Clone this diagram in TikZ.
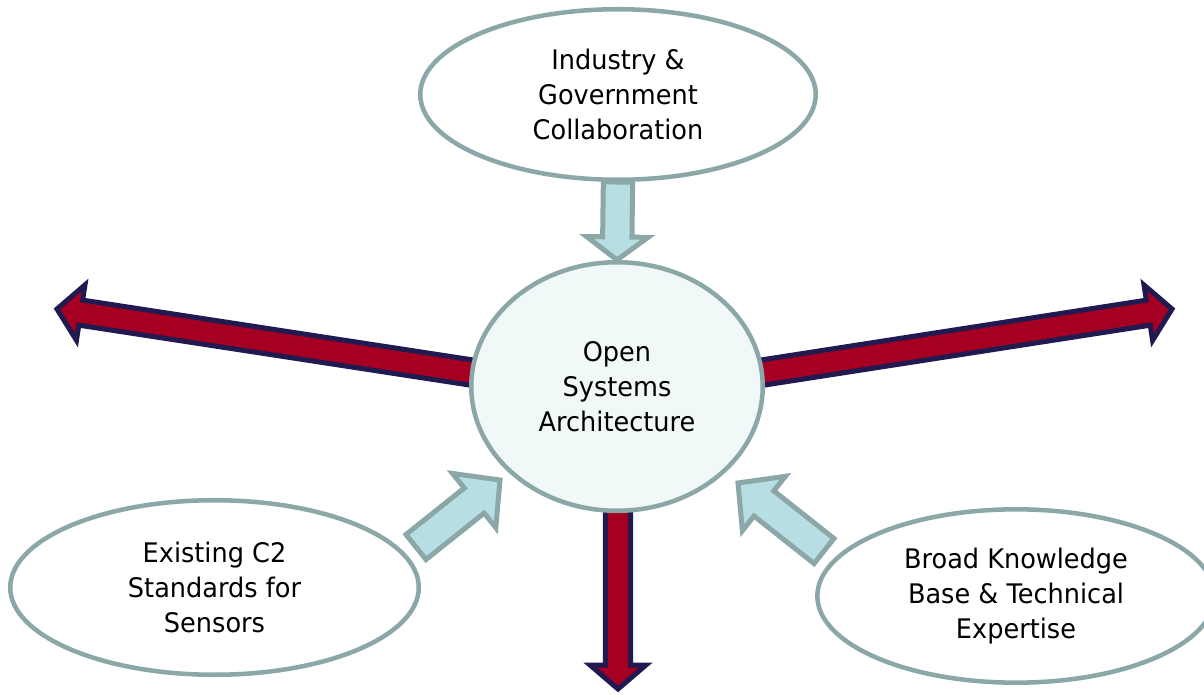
\documentclass[tikz,border=0pt]{standalone}
\usepackage{fontspec}
\setmainfont{DejaVu Sans}[FakeStretch=0.95]
\usepackage{tikz}
\usetikzlibrary{shapes}
\usetikzlibrary{calc}
\usetikzlibrary{backgrounds}
\usepackage{xcolor}

\definecolor{osaLine}{RGB}{140,167,168}
\definecolor{osaFill}{RGB}{240,248,248}
\definecolor{inFill}{RGB}{183,222,226}
\definecolor{outFill}{RGB}{165,0,33}
\definecolor{outLine}{RGB}{32,26,80}

\tikzset{
  bubble/.style={ellipse, draw=osaLine, line width=3.4pt, fill=white, inner sep=0pt, align=center, font=\fontsize{20.2}{26.25}\selectfont},
  fat arrow/.style args={#1/#2/#3}{to path={
      (\tikztostart) coordinate (fa-s) (\tikztotarget) coordinate (fa-t)
      ($(fa-t)!#3!(fa-s)$) coordinate (fa-h)
      ($(fa-s)!#1!90:(fa-t)$) -- ($(fa-h)!#1!90:(fa-t)$) -- ($(fa-h)!#2!90:(fa-t)$) -- (fa-t)
      -- ($(fa-h)!#2!-90:(fa-t)$) -- ($(fa-h)!#1!-90:(fa-t)$) -- ($(fa-s)!#1!-90:(fa-t)$) -- cycle}},
  outarrow/.style={draw=outLine, fill=outFill, line width=3.75pt, line join=miter, fat arrow=9.5pt/21pt/18pt},
  inarrow/.style={draw=osaLine, fill=inFill, line width=3.75pt, line join=miter},
}

\begin{document}
\begin{tikzpicture}[x=0.75pt,y=0.75pt,yscale=-1,xscale=1]
\useasboundingbox (0,0) rectangle (1204,695);

%Ellipses
\node [bubble, fill=osaFill, minimum width=218.6pt, minimum height=186.4pt] (osa) at (617,386.5) {Open\\Systems\\Architecture};
\node [bubble, minimum width=296.6pt, minimum height=127.9pt] (igc) at (618,94.5) {Industry \&\\Government\\Collaboration};
\node [bubble, minimum width=306.4pt, minimum height=130.9pt] (c2s) at (214.5,587.5) {Existing C2\\Standards for\\Sensors};
\node [bubble, minimum width=298pt, minimum height=130pt] (bkb) at (1016,596) {Broad Knowledge\\Base \& Technical\\Expertise};

%Arrow ends
\coordinate (hub) at (618,395);
\coordinate (westTip) at (57,309);
\coordinate (eastTip) at (1172,309);
\coordinate (southTip) at (618,689);
\coordinate (c2sTail) at (416,547);
\coordinate (c2sTip) at (500,480);
\coordinate (bkbTail) at (824,551);
\coordinate (bkbTip) at (738,483);

\begin{scope}[on background layer]
%Outgoing arrows
\draw [outarrow] (hub) to (westTip);
\draw [outarrow] (hub) to (eastTip);
\draw [outarrow] (hub) to (southTip);
%Incoming arrows
\draw [inarrow, fat arrow=11pt/23pt/17.25pt] (igc.south) to (osa.north);
\draw [inarrow, fat arrow=12pt/26pt/24.75pt] (c2sTail) to (c2sTip);
\draw [inarrow, fat arrow=12pt/26pt/24.75pt] (bkbTail) to (bkbTip);
\end{scope}

\end{tikzpicture}
\end{document}
